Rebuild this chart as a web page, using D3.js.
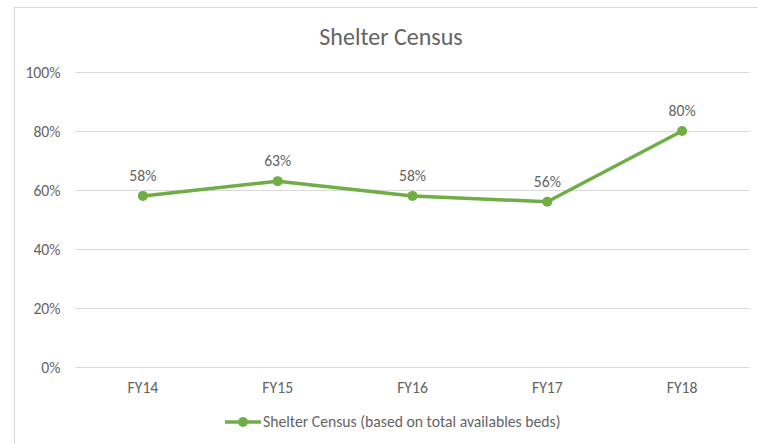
<!DOCTYPE html>
<html><head><meta charset="utf-8">
<script src="https://cdn.jsdelivr.net/npm/d3@7"></script>
<style>body{margin:0;background:#fff;}svg{display:block;}svg text{font-family:Carlito,Lato,sans-serif;}</style>
</head><body><svg id="c" width="758" height="444"></svg>
<script>
const categories = ["FY14","FY15","FY16","FY17","FY18"];
const values = [0.58,0.63,0.58,0.56,0.80];
const yTicks = [0,0.2,0.4,0.6,0.8,1.0];
const title = "Shelter Census";
const seriesName = "Shelter Census (based on total availables beds)";

const svg = d3.select("#c");
const grey = "#646464", green = "#70AD47";
const fs = 15.7;
svg.append("rect").attr("x",14.5).attr("y",7.5).attr("width",800).attr("height",500)
  .attr("fill","#fff").attr("stroke","#d9d9d9");
const x = d3.scaleBand().domain(categories).range([75.5,749.5]);
const y = d3.scaleLinear().domain([0,1]).range([367,72]);

svg.append("text").attr("x",391).attr("y",45).attr("text-anchor","middle")
  .attr("font-size",24).attr("fill",grey).text(title);

const yAxis = svg.append("g").attr("transform","translate(75.5,0)")
  .call(d3.axisLeft(y).tickValues(yTicks).tickFormat(d3.format(".0%")).tickSize(-674).tickPadding(15));
yAxis.attr("font-family",null).attr("font-size",fs);
yAxis.select(".domain").remove();
yAxis.selectAll("line").attr("stroke","#d9d9d9");
yAxis.selectAll("text").attr("fill",grey);

const xAxis = svg.append("g").attr("transform","translate(0,367)")
  .call(d3.axisBottom(x).tickSize(0).tickPadding(15));
xAxis.attr("font-family",null).attr("font-size",fs);
xAxis.select(".domain").remove();
xAxis.selectAll("text").attr("fill",grey);

const cx = d => x(d) + x.bandwidth()/2;
const line = d3.line().x((d,i)=>cx(categories[i])).y(d=>y(d));
svg.append("path").datum(values).attr("d",line).attr("fill","none")
  .attr("stroke",green).attr("stroke-width",3.5).attr("stroke-linejoin","round").attr("stroke-linecap","round");
svg.selectAll("circle.p").data(values).join("circle").attr("class","p")
  .attr("cx",(d,i)=>cx(categories[i])).attr("cy",d=>y(d)).attr("r",5).attr("fill",green);
svg.selectAll("text.lbl").data(values).join("text").attr("class","lbl")
  .attr("x",(d,i)=>cx(categories[i])).attr("y",d=>y(d)-15).attr("text-anchor","middle")
  .attr("font-size",fs).attr("fill",grey).text(d3.format(".0%"));

const lg = svg.append("g");
lg.append("line").attr("x1",225).attr("x2",261).attr("y1",422).attr("y2",422).attr("stroke",green).attr("stroke-width",3.5);
lg.append("circle").attr("cx",243).attr("cy",422).attr("r",5).attr("fill",green);
lg.append("text").attr("x",263).attr("y",427).attr("font-size",fs).attr("fill",grey).text(seriesName);
</script></body></html>
